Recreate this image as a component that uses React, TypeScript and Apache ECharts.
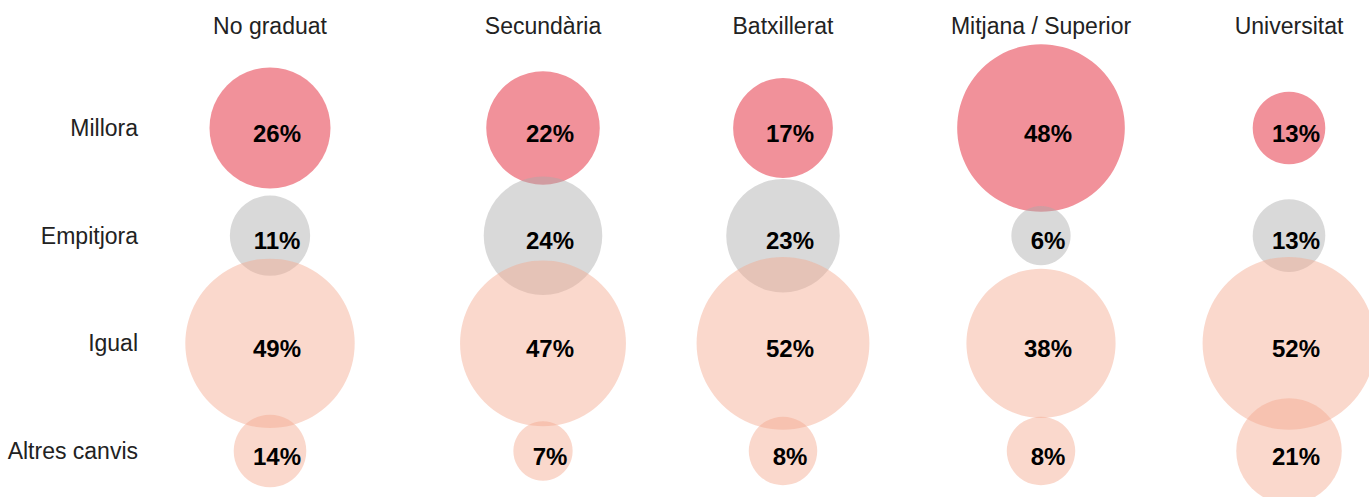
import React, { useEffect, useRef } from "react";
import * as echarts from "echarts";

// Column headers (education level) and row labels (type of change)
const columns = ["No graduat", "Secundària", "Batxillerat", "Mitjana / Superior", "Universitat"];
const rows = ["Millora", "Empitjora", "Igual", "Altres canvis"];

// Percentages printed in the bubbles (per column)
const millora = [26, 22, 17, 48, 13];
const empitjora = [11, 24, 23, 6, 13];
const igual = [49, 47, 52, 38, 52];
const altres = [14, 7, 8, 8, 21];

// Bubble magnitudes (percent-equivalent)
const milloraArea = [25, 22, 17, 48, 9];
const empitjoraArea = [11, 24, 22, 6, 9];
const igualArea = [49, 47, 51, 38, 51];
const altresArea = [9, 6, 8, 8, 19];

const rowValues = [millora, empitjora, igual, altres];
const rowAreas = [milloraArea, empitjoraArea, igualArea, altresArea];

// Layout (not data)
const COL_CENTERS = [270, 543, 783, 1041, 1289];
const COL_WIDTH = 160;
const ROW_COLORS = [
  "rgba(224,12,30,0.45)",
  "rgba(171,171,171,0.45)",
  "rgba(244,168,142,0.45)",
  "rgba(244,168,142,0.45)",
];
const FONT = "'Liberation Sans', Arial, Helvetica, sans-serif";

export default function App() {
  const ref = useRef<HTMLDivElement>(null);

  useEffect(() => {
    if (!ref.current) return;
    const chart = echarts.init(ref.current, undefined, { renderer: "svg" });

    const grid: any[] = [];
    const xAxis: any[] = [];
    const yAxis: any[] = [];
    const series: any[] = [];

    columns.forEach((col, c) => {
      grid.push({
        left: COL_CENTERS[c] - COL_WIDTH / 2,
        width: COL_WIDTH,
        top: 128,
        bottom: 46,
        containLabel: false,
      });
      xAxis.push({
        type: "category",
        gridIndex: c,
        position: "top",
        data: [col],
        boundaryGap: true,
        axisLine: { show: false },
        axisTick: { show: false },
        splitLine: { show: false },
        axisLabel: {
          margin: 91,
          fontSize: 23,
          fontFamily: FONT,
          color: "#222",
        },
      });
      yAxis.push({
        type: "category",
        gridIndex: c,
        data: rows,
        inverse: true,
        boundaryGap: false,
        axisLine: { show: false },
        axisTick: { show: false },
        splitLine: { show: false },
        axisLabel: {
          show: c === 0,
          margin: 52,
          fontSize: 23,
          fontFamily: FONT,
          color: "#222",
        },
      });
      series.push({
        type: "scatter",
        xAxisIndex: c,
        yAxisIndex: c,
        clip: false,
        data: rows.map((_, r) => ({
          value: [0, r],
          symbolSize: 24.2 * Math.sqrt(rowAreas[r][c]),
          itemStyle: { color: ROW_COLORS[r], opacity: 1 },
          label: { formatter: `${rowValues[r][c]}%` },
        })),
        itemStyle: { opacity: 1 },
        label: {
          show: true,
          position: "inside",
          offset: [7, 5],
          fontSize: 24,
          fontWeight: "bold",
          fontFamily: FONT,
          color: "#000",
        },
        emphasis: { disabled: true },
      });
    });

    chart.setOption({
      animation: false,
      backgroundColor: "#ffffff",
      grid,
      xAxis,
      yAxis,
      series,
    });

    return () => chart.dispose();
  }, []);

  return (
    <div
      ref={ref}
      style={{ position: "fixed", left: 0, top: 0, width: 1369, height: 497 }}
    />
  );
}
